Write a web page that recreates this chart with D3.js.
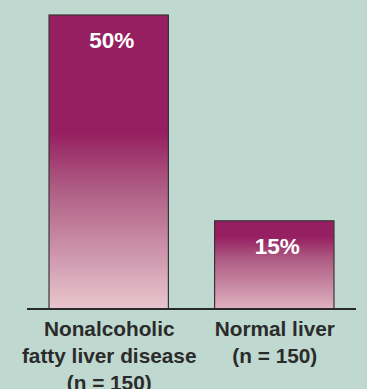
<!DOCTYPE html>
<html><head><meta charset="utf-8">
<script src="https://cdn.jsdelivr.net/npm/d3@7"></script>
<style>
html,body{margin:0;padding:0;background:#c0d9d0;}
svg{display:block;}
</style></head>
<body>
<svg id="c" width="367" height="389"></svg>
<script>
const categories = ["NAFLD", "Normal"];
const categoryLabels = [["Nonalcoholic", "fatty liver disease", "(n = 150)"], ["Normal liver", "(n = 150)"]];
const values = [50, 15];
const valueLabels = ["50%", "15%"];
const yMax = 50;

const W = 367, H = 389;
const svg = d3.select("#c");
svg.append("rect").attr("width", W).attr("height", H).attr("fill", "#c0d9d0");

const x = d3.scaleBand().domain(categories).range([27, 356]).paddingInner(0.279).paddingOuter(0.133);
const y = d3.scaleLinear().domain([0, yMax]).range([309, 15]);

const defs = svg.append("defs");
const solidEnds = [0.40, 0.18];
const lightEnds = ["#e8c6ce", "#dfb2c0"];
categories.forEach((c, i) => {
  const g = defs.append("linearGradient").attr("id", "g" + i)
    .attr("x1", 0).attr("y1", 0).attr("x2", 0).attr("y2", 1);
  g.append("stop").attr("offset", 0).attr("stop-color", "#961f61");
  g.append("stop").attr("offset", solidEnds[i]).attr("stop-color", "#961f61");
  g.append("stop").attr("offset", solidEnds[i] + (1 - solidEnds[i]) * 0.3).attr("stop-color", "#ad5a82");
  g.append("stop").attr("offset", 1).attr("stop-color", lightEnds[i]);
});

svg.selectAll("rect.bar").data(values).join("rect").attr("class", "bar")
  .attr("x", (d, i) => x(categories[i]))
  .attr("y", d => y(d))
  .attr("width", x.bandwidth())
  .attr("height", d => y(0) - y(d))
  .attr("fill", (d, i) => `url(#g${i})`)
  .attr("stroke", "#3a3436").attr("stroke-width", 1.2);

svg.append("line").attr("x1", 27).attr("x2", 356).attr("y1", y(0)).attr("y2", y(0))
  .attr("stroke", "#2a2a2a").attr("stroke-width", 2.2);

const font = "'Liberation Sans', Arial, sans-serif";
svg.selectAll("text.val").data(values).join("text").attr("class", "val")
  .attr("x", (d, i) => x(categories[i]) + x.bandwidth() / 2 + 3)
  .attr("y", d => y(d) + 33)
  .attr("text-anchor", "middle")
  .attr("font-family", font).attr("font-weight", "bold").attr("font-size", 22.5)
  .attr("fill", "#ffffff")
  .text((d, i) => valueLabels[i]);

categories.forEach((c, i) => {
  const t = svg.append("text")
    .attr("text-anchor", "middle")
    .attr("font-family", font).attr("font-weight", "bold").attr("font-size", 20.8)
    .attr("fill", "#2b2b2b");
  categoryLabels[i].forEach((line, j) => {
    t.append("tspan").attr("x", x(c) + x.bandwidth() / 2 + 0.5).attr("y", 335.5 + j * 27.3).text(line);
  });
});
</script>
</body></html>
